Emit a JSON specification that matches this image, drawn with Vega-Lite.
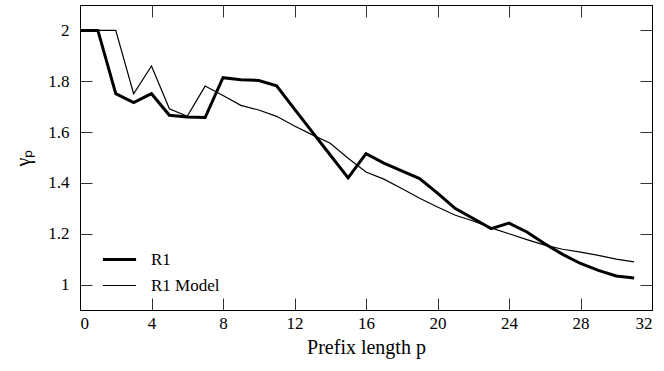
{
  "$schema": "https://vega.github.io/schema/vega-lite/v6.json",
  "width": 572,
  "height": 305,
  "autosize": "none",
  "padding": {"left": 80, "top": 5, "right": 12, "bottom": 61},
  "background": "white",
  "config": {
    "font": "Liberation Serif",
    "style": {
      "guide-label": {"font": "Liberation Serif", "fontSize": 17, "fill": "black"},
      "guide-title": {"font": "Liberation Serif", "fontSize": 20, "fill": "black", "fontWeight": "normal"}
    },
    "view": {"stroke": "black", "strokeWidth": 1},
    "axis": {
      "grid": false,
      "domainColor": "black",
      "tickColor": "#333",
      "tickSize": -12,
      "labelFont": "Liberation Serif",
      "labelFontSize": 17,
      "labelColor": "black",
      "titleFont": "Liberation Serif",
      "titleFontSize": 20,
      "titleFontWeight": "normal",
      "titleColor": "black"
    },
    "legend": {
      "labelFont": "Liberation Serif",
      "labelFontSize": 17,
      "labelColor": "black"
    }
  },
  "data": {
    "values": [
      {"p": 0, "series": "R1", "gamma": 2.0},
      {"p": 1, "series": "R1", "gamma": 2.0},
      {"p": 2, "series": "R1", "gamma": 1.751},
      {"p": 3, "series": "R1", "gamma": 1.716},
      {"p": 4, "series": "R1", "gamma": 1.751},
      {"p": 5, "series": "R1", "gamma": 1.666},
      {"p": 6, "series": "R1", "gamma": 1.659},
      {"p": 7, "series": "R1", "gamma": 1.657},
      {"p": 8, "series": "R1", "gamma": 1.814},
      {"p": 9, "series": "R1", "gamma": 1.806},
      {"p": 10, "series": "R1", "gamma": 1.803},
      {"p": 11, "series": "R1", "gamma": 1.782},
      {"p": 12, "series": "R1", "gamma": 1.69},
      {"p": 13, "series": "R1", "gamma": 1.6},
      {"p": 14, "series": "R1", "gamma": 1.51},
      {"p": 15, "series": "R1", "gamma": 1.42},
      {"p": 16, "series": "R1", "gamma": 1.515},
      {"p": 17, "series": "R1", "gamma": 1.478},
      {"p": 18, "series": "R1", "gamma": 1.447},
      {"p": 19, "series": "R1", "gamma": 1.417},
      {"p": 20, "series": "R1", "gamma": 1.36},
      {"p": 21, "series": "R1", "gamma": 1.299},
      {"p": 22, "series": "R1", "gamma": 1.26},
      {"p": 23, "series": "R1", "gamma": 1.22},
      {"p": 24, "series": "R1", "gamma": 1.242},
      {"p": 25, "series": "R1", "gamma": 1.207},
      {"p": 26, "series": "R1", "gamma": 1.161},
      {"p": 27, "series": "R1", "gamma": 1.119},
      {"p": 28, "series": "R1", "gamma": 1.083},
      {"p": 29, "series": "R1", "gamma": 1.056},
      {"p": 30, "series": "R1", "gamma": 1.034},
      {"p": 31, "series": "R1", "gamma": 1.026},
      {"p": 0, "series": "R1 Model", "gamma": 2.0},
      {"p": 1, "series": "R1 Model", "gamma": 2.0},
      {"p": 2, "series": "R1 Model", "gamma": 2.0},
      {"p": 3, "series": "R1 Model", "gamma": 1.751},
      {"p": 4, "series": "R1 Model", "gamma": 1.86},
      {"p": 5, "series": "R1 Model", "gamma": 1.692},
      {"p": 6, "series": "R1 Model", "gamma": 1.662},
      {"p": 7, "series": "R1 Model", "gamma": 1.781},
      {"p": 8, "series": "R1 Model", "gamma": 1.744},
      {"p": 9, "series": "R1 Model", "gamma": 1.705},
      {"p": 10, "series": "R1 Model", "gamma": 1.687},
      {"p": 11, "series": "R1 Model", "gamma": 1.662},
      {"p": 12, "series": "R1 Model", "gamma": 1.624},
      {"p": 13, "series": "R1 Model", "gamma": 1.589},
      {"p": 14, "series": "R1 Model", "gamma": 1.556},
      {"p": 15, "series": "R1 Model", "gamma": 1.497},
      {"p": 16, "series": "R1 Model", "gamma": 1.443},
      {"p": 17, "series": "R1 Model", "gamma": 1.415},
      {"p": 18, "series": "R1 Model", "gamma": 1.378},
      {"p": 19, "series": "R1 Model", "gamma": 1.34},
      {"p": 20, "series": "R1 Model", "gamma": 1.305},
      {"p": 21, "series": "R1 Model", "gamma": 1.273},
      {"p": 22, "series": "R1 Model", "gamma": 1.25},
      {"p": 23, "series": "R1 Model", "gamma": 1.223},
      {"p": 24, "series": "R1 Model", "gamma": 1.2},
      {"p": 25, "series": "R1 Model", "gamma": 1.177},
      {"p": 26, "series": "R1 Model", "gamma": 1.155},
      {"p": 27, "series": "R1 Model", "gamma": 1.139},
      {"p": 28, "series": "R1 Model", "gamma": 1.128},
      {"p": 29, "series": "R1 Model", "gamma": 1.115},
      {"p": 30, "series": "R1 Model", "gamma": 1.1},
      {"p": 31, "series": "R1 Model", "gamma": 1.089}
    ]
  },
  "layer": [
    {
      "mark": {"type": "line", "color": "black", "strokeJoin": "miter"},
      "encoding": {
        "x": {
          "field": "p", "type": "quantitative",
          "scale": {"domain": [0, 32], "nice": false},
          "axis": {"values": [0, 4, 8, 12, 16, 20, 24, 28, 32], "labelPadding": 17, "labelFont": "Liberation Serif", "title": "Prefix length p", "titlePadding": 6}
        },
        "y": {
          "field": "gamma", "type": "quantitative",
          "scale": {"domain": [0.9, 2.1], "nice": false, "zero": false},
          "axis": {"values": [1, 1.2, 1.4, 1.6, 1.8, 2], "format": ".1~f", "labelPadding": 23, "labelFont": "Liberation Serif", "title": "γₚ", "titlePadding": 14}
        },
        "strokeWidth": {
          "field": "series", "type": "nominal",
          "scale": {"domain": ["R1", "R1 Model"], "range": [3, 1.2]},
          "legend": {
            "title": null,
            "orient": "none",
            "legendX": 21,
            "legendY": 236,
            "symbolType": "stroke",
            "symbolStrokeColor": "black",
            "symbolSize": 1100,
            "labelOffset": 13,
            "labelFont": "Liberation Serif",
            "rowPadding": -16
          }
        },
        "detail": {"field": "series"}
      }
    },
    {
      "mark": {"type": "line", "opacity": 0},
      "encoding": {
        "x": {
          "field": "p", "type": "quantitative",
          "axis": {"orient": "top", "values": [4, 8, 12, 16, 20, 24, 28], "labels": false, "title": null}
        },
        "y": {
          "field": "gamma", "type": "quantitative",
          "axis": {"orient": "right", "values": [1, 1.2, 1.4, 1.6, 1.8, 2], "labels": false, "title": null}
        },
        "detail": {"field": "series"}
      }
    }
  ],
  "resolve": {"axis": {"x": "independent", "y": "independent"}}
}
